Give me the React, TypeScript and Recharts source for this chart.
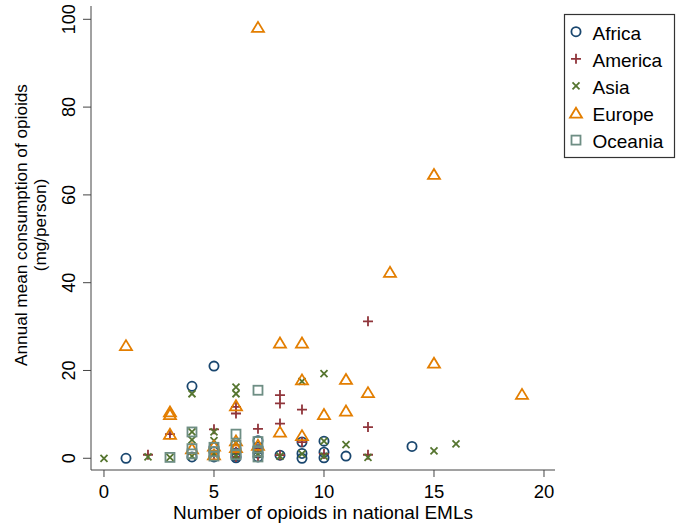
import { ScatterChart, Scatter, XAxis, YAxis } from "recharts";

// [number of opioids on EML, annual mean consumption mg/person]
const africa: [number, number][] = [
  [1, 0], [4, 16.4], [4, 0.3], [5, 21], [5, 2.5], [5, 1.5], [5, 0.3],
  [6, 2.2], [6, 1.2], [6, 0.5], [6, 0.1], [7, 4.0], [7, 2.5], [7, 1.2], [7, 0.3],
  [8, 0.7], [9, 3.7], [9, 1.1], [9, 0], [10, 3.9], [10, 1.4], [10, 0.1],
  [11, 0.5], [14, 2.7],
];
const america: [number, number][] = [
  [2, 0.8], [3, 5.5], [5, 6.6], [5, 0.8], [6, 11.7], [6, 10.2], [6, 1.5], [6, 0.3],
  [7, 6.7], [7, 2.0], [7, 0.5], [8, 14.4], [8, 12.5], [8, 7.9], [8, 0.7],
  [9, 11.1], [9, 3.7], [10, 1.0], [12, 31.2], [12, 7.1], [12, 0.8],
];
const asia: [number, number][] = [
  [0, 0], [2, 0.3], [3, 0.2], [4, 14.7], [4, 6.0], [4, 4.2], [4, 0.5],
  [5, 6.0], [5, 4.0], [5, 1.0], [6, 16.2], [6, 14.7], [6, 3.5], [6, 0.5],
  [7, 1.0], [8, 0.5], [9, 17.5], [9, 1.0], [10, 19.3], [10, 3.9], [10, 0.5],
  [11, 3.1], [12, 0.2], [15, 1.7], [16, 3.3],
];
const europe: [number, number][] = [
  [1, 25.7], [3, 10.6], [3, 10.0], [3, 5.5], [4, 2.2], [5, 2.8], [5, 0.8],
  [6, 12.0], [6, 4.0], [6, 2.5], [7, 98.2], [7, 3.0], [8, 26.3], [8, 6.0],
  [9, 26.3], [9, 17.9], [9, 5.2], [10, 10.0], [11, 18.0], [11, 10.8],
  [12, 15.0], [13, 42.4], [15, 64.7], [15, 21.7], [19, 14.6],
];
const oceania: [number, number][] = [
  [3, 0.2], [4, 6.0], [4, 2.2], [4, 1.0], [5, 2.5], [5, 1.5], [5, 0.5],
  [6, 5.5], [6, 3.0], [6, 0.8], [7, 15.5], [7, 3.8], [7, 1.5], [7, 0.3],
];

const xTicks = [0, 5, 10, 15, 20];
const yTicks = [0, 20, 40, 60, 80, 100];

type Kind = "circle" | "plus" | "cross" | "triangle" | "square";

const series: { name: string; color: string; kind: Kind; points: [number, number][] }[] = [
  { name: "Africa", color: "#1a476f", kind: "circle", points: africa },
  { name: "America", color: "#90353b", kind: "plus", points: america },
  { name: "Asia", color: "#55752f", kind: "cross", points: asia },
  { name: "Europe", color: "#e37e00", kind: "triangle", points: europe },
  { name: "Oceania", color: "#6e8e84", kind: "square", points: oceania },
];

const FONT = "'Liberation Sans', Arial, Helvetica, sans-serif";

function Marker({ kind, cx, cy, color }: { kind: Kind; cx: number; cy: number; color: string }) {
  const sw = 1.8;
  if (kind === "circle")
    return <circle cx={cx} cy={cy} r={4.6} fill="none" stroke={color} strokeWidth={sw} />;
  if (kind === "plus")
    return (
      <path d={`M${cx - 5},${cy}H${cx + 5}M${cx},${cy - 5}V${cy + 5}`} stroke={color} strokeWidth={sw} fill="none" />
    );
  if (kind === "cross")
    return (
      <path
        d={`M${cx - 3.5},${cy - 3.5}L${cx + 3.5},${cy + 3.5}M${cx - 3.5},${cy + 3.5}L${cx + 3.5},${cy - 3.5}`}
        stroke={color}
        strokeWidth={sw}
        fill="none"
      />
    );
  if (kind === "triangle")
    return (
      <polygon
        points={`${cx},${cy - 5.3} ${cx - 6},${cy + 4.7} ${cx + 6},${cy + 4.7}`}
        fill="none"
        stroke={color}
        strokeWidth={sw}
      />
    );
  return <rect x={cx - 4.5} y={cy - 4.5} width={9} height={9} fill="none" stroke={color} strokeWidth={sw} />;
}

function YTick({ y, payload }: any) {
  return (
    <text
      transform={`translate(75,${y}) rotate(-90)`}
      textAnchor="middle"
      fontSize={18}
      fontFamily={FONT}
      fill="#000"
    >
      {payload.value}
    </text>
  );
}

function YTitle() {
  return (
    <g fontFamily={FONT} fontSize={17.2} fill="#000" textAnchor="middle">
      <text transform="translate(27,225) rotate(-90)">Annual mean consumption of opioids</text>
      <text transform="translate(46,225) rotate(-90)">(mg/person)</text>
    </g>
  );
}

function XTitle() {
  return (
    <text x={323} y={519} textAnchor="middle" fontFamily={FONT} fontSize={19} fill="#000">
      Number of opioids in national EMLs
    </text>
  );
}

function LegendBox() {
  return (
    <svg
      width={680}
      height={528}
      style={{ position: "absolute", left: 0, top: 0, pointerEvents: "none" }}
    >
      <rect x={564.5} y={14.5} width={110} height={143} fill="#fff" stroke="#333" strokeWidth={1.2} />
      {series.map((s, i) => {
        const cy = 31.7 + i * 27.1;
        return (
          <g key={s.name}>
            <Marker kind={s.kind} cx={576} cy={cy} color={s.color} />
            <text x={592.5} y={cy + 8} fontFamily={FONT} fontSize={19} fill="#000">
              {s.name}
            </text>
          </g>
        );
      })}
    </svg>
  );
}

export default function App() {
  return (
    <div style={{ position: "absolute", left: 0, top: 0, width: 680, height: 528, background: "#fff" }}>
      <ScatterChart width={680} height={528} margin={{ top: 6, right: 125, bottom: 0, left: 0 }}>
        <XAxis
          type="number"
          dataKey="x"
          domain={[-0.59, 20.5]}
          ticks={xTicks}
          allowDataOverflow
          height={58}
          stroke="#444"
          tickSize={7}
          tickMargin={8}
          tick={{ fill: "#000", fontSize: 18.5, fontFamily: FONT }}
          label={{ content: () => <XTitle /> }}
        />
        <YAxis
          type="number"
          dataKey="y"
          domain={[-2.67, 103.03]}
          ticks={yTicks}
          allowDataOverflow
          width={91}
          stroke="#444"
          tickSize={8}
          tick={<YTick />}
          label={{ content: () => <YTitle /> }}
        />
        {series.map((s) => (
          <Scatter
            key={s.name}
            name={s.name}
            data={s.points.map(([x, y]) => ({ x, y }))}
            isAnimationActive={false}
            shape={(p: any) => <Marker kind={s.kind} cx={p.cx} cy={p.cy} color={s.color} />}
          />
        ))}
      </ScatterChart>
      <LegendBox />
    </div>
  );
}
